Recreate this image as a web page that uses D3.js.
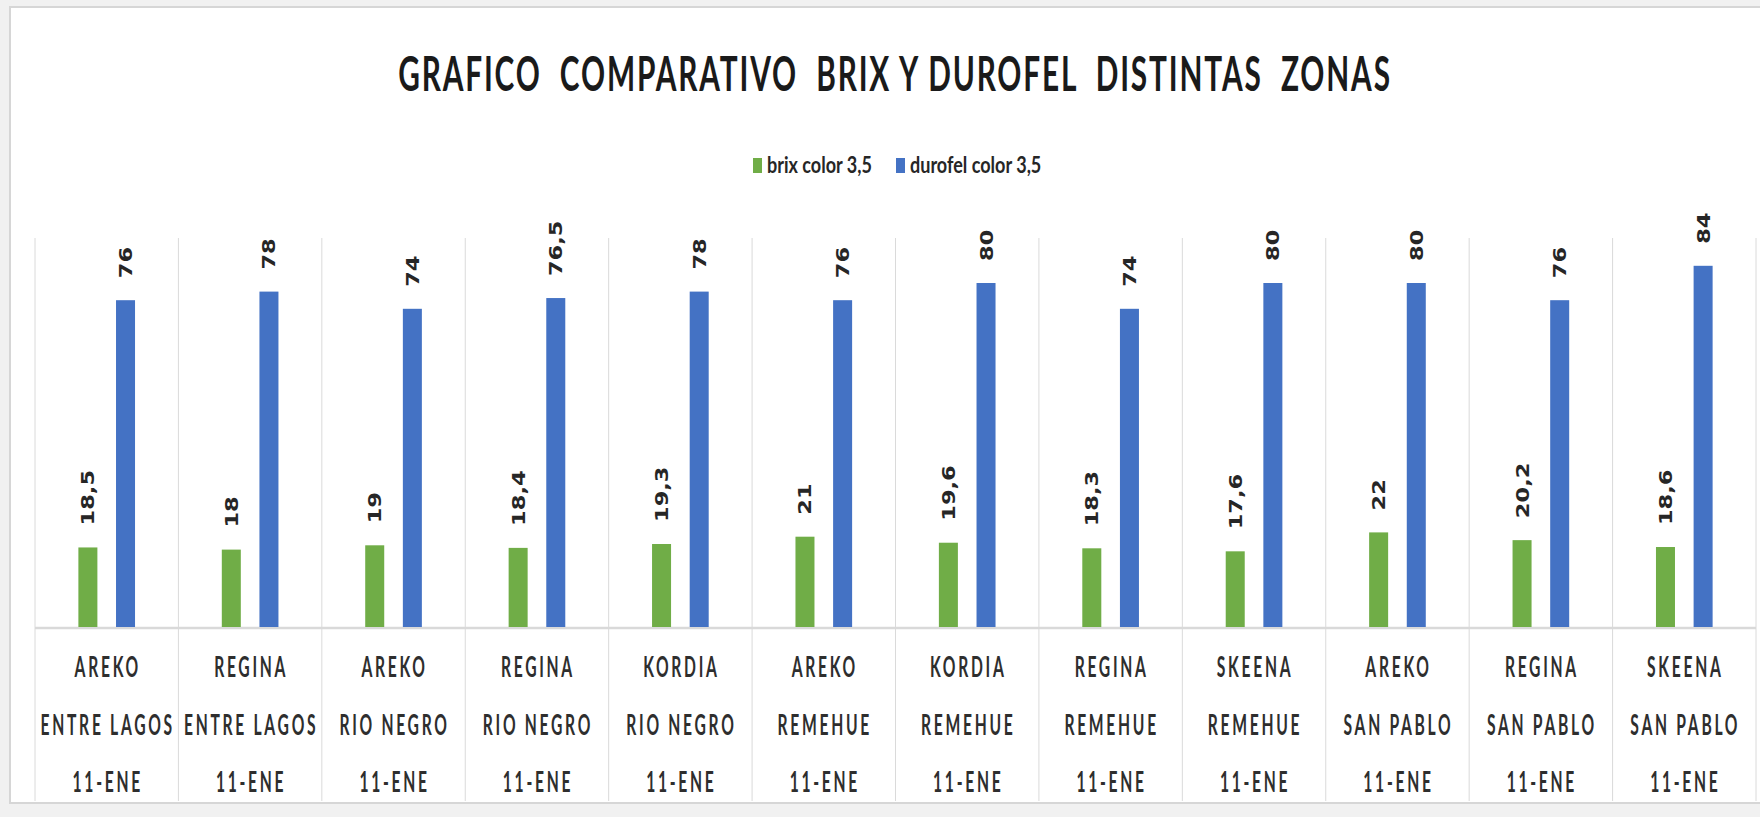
<!DOCTYPE html>
<html><head><meta charset="utf-8">
<script src="https://cdn.jsdelivr.net/npm/d3@7"></script>
<style>
html,body{margin:0;padding:0;background:#f1f1f1;overflow:hidden;}
svg{display:block;}
text{white-space:pre;}
</style></head><body>
<svg id="chart" width="1760" height="817"></svg>
<script>
const titleText = "GRAFICO  COMPARATIVO  BRIX Y DUROFEL  DISTINTAS  ZONAS";
const varieties = ["AREKO","REGINA","AREKO","REGINA","KORDIA","AREKO","KORDIA","REGINA","SKEENA","AREKO","REGINA","SKEENA"];
const zones = ["ENTRE LAGOS","ENTRE LAGOS","RIO NEGRO","RIO NEGRO","RIO NEGRO","REMEHUE","REMEHUE","REMEHUE","REMEHUE","SAN PABLO","SAN PABLO","SAN PABLO"];
const dates = ["11-ENE","11-ENE","11-ENE","11-ENE","11-ENE","11-ENE","11-ENE","11-ENE","11-ENE","11-ENE","11-ENE","11-ENE"];
const seriesNames = ["brix color 3,5","durofel color 3,5"];
const brix = [18.5,18,19,18.4,19.3,21,19.6,18.3,17.6,22,20.2,18.6];
const durofel = [76,78,74,76.5,78,76,80,74,80,80,76,84];
const seriesColors = ["#70AD47","#4472C4"];
const yDomain = [0,90];

const svg = d3.select("#chart");
const fmt = v => String(v).replace(".", ",");

// chart frame
svg.append("rect").attr("x",10).attr("y",7).attr("width",1790).attr("height",796)
  .attr("fill","#ffffff").attr("stroke","#d6d6d6").attr("stroke-width",2);

const plot = {left:35, right:1756, top:240, bottom:627, gridTop:238, gridBottom:801};
const n = varieties.length;
const x0 = d3.scaleBand().domain(d3.range(n)).range([plot.left, plot.right]);
const groupW = x0.bandwidth()*0.395;
const x1 = d3.scaleBand().domain([0,1]).range([-groupW/2, groupW/2]).paddingInner(0.495);
const y = d3.scaleLinear().domain(yDomain).range([plot.bottom, plot.top]);

// category dividers
const bounds = d3.range(n+1).map(i => i < n ? x0(i) : x0(n-1)+x0.bandwidth());
svg.append("g").selectAll("line").data(bounds).join("line")
  .attr("x1", d=>d).attr("x2", d=>d)
  .attr("y1", plot.gridTop).attr("y2", plot.gridBottom)
  .attr("stroke","#dadada").attr("stroke-width",1);

// axis line
svg.append("line").attr("x1",plot.left).attr("x2",plot.right)
  .attr("y1",plot.bottom+1).attr("y2",plot.bottom+1)
  .attr("stroke","#d9d9d9").attr("stroke-width",2.5);

// bars
const rows = d3.range(n).map(i => ({i, vals:[brix[i], durofel[i]]}));
const groups = svg.append("g").selectAll("g").data(rows).join("g")
  .attr("transform", d => `translate(${x0(d.i)+x0.bandwidth()/2},0)`);
groups.selectAll("rect").data(d => d.vals.map((v,s)=>({v,s}))).join("rect")
  .attr("x", d => x1(d.s)).attr("width", x1.bandwidth())
  .attr("y", d => y(d.v)).attr("height", d => y(0)-y(d.v))
  .attr("fill", d => seriesColors[d.s]);

// value labels (rotated)
groups.selectAll("text").data(d => d.vals.map((v,s)=>({v,s}))).join("text")
  .attr("transform", d => `translate(${x1(d.s)+x1.bandwidth()/2},${y(d.v)-22}) rotate(-90) scale(1.25,1)`)
  .attr("dy","0.36em")
  .attr("font-family","DejaVu Sans, sans-serif").attr("font-weight","bold")
  .attr("font-size",18).attr("fill","#262626")
  .text(d => fmt(d.v));

// category labels
const catLines = [varieties, zones, dates];
const lineBase = [677, 735, 792];
catLines.forEach((arr, li) => {
  svg.append("g").selectAll("text").data(arr).join("text")
    .attr("transform", (d,i) => `translate(${x0(i)+x0.bandwidth()/2 + 1},${lineBase[li]}) scale(0.54,1)`)
    .attr("text-anchor","middle")
    .attr("font-family","Lato, sans-serif").attr("font-weight","bold")
    .attr("font-size",29).attr("letter-spacing","5px").attr("fill","#2e2e2e")
    .text(d => d);
});

// title
const title = svg.append("text")
  .attr("text-anchor","middle")
  .attr("font-family","Lato, sans-serif").attr("font-weight","bold")
  .attr("font-size",48).attr("letter-spacing","3px").attr("fill","#1a1a1a")
  .text(titleText);
const tw = title.node().getComputedTextLength();
title.attr("transform", `translate(895,91) scale(${994/tw},1)`);

// legend
const legendX = [753, 896];
const leg = svg.append("g").selectAll("g").data(seriesNames).join("g")
  .attr("transform",(d,i)=>`translate(${legendX[i]},0)`);
leg.append("rect").attr("x",0).attr("y",158).attr("width",9).attr("height",15)
  .attr("fill",(d,i)=>seriesColors[i]);
leg.append("text").attr("transform","translate(14,173) scale(0.82,1)")
  .attr("font-family","Lato, sans-serif").attr("font-weight","bold")
  .attr("font-size",22).attr("fill","#262626")
  .text(d=>d);
</script>
</body></html>
